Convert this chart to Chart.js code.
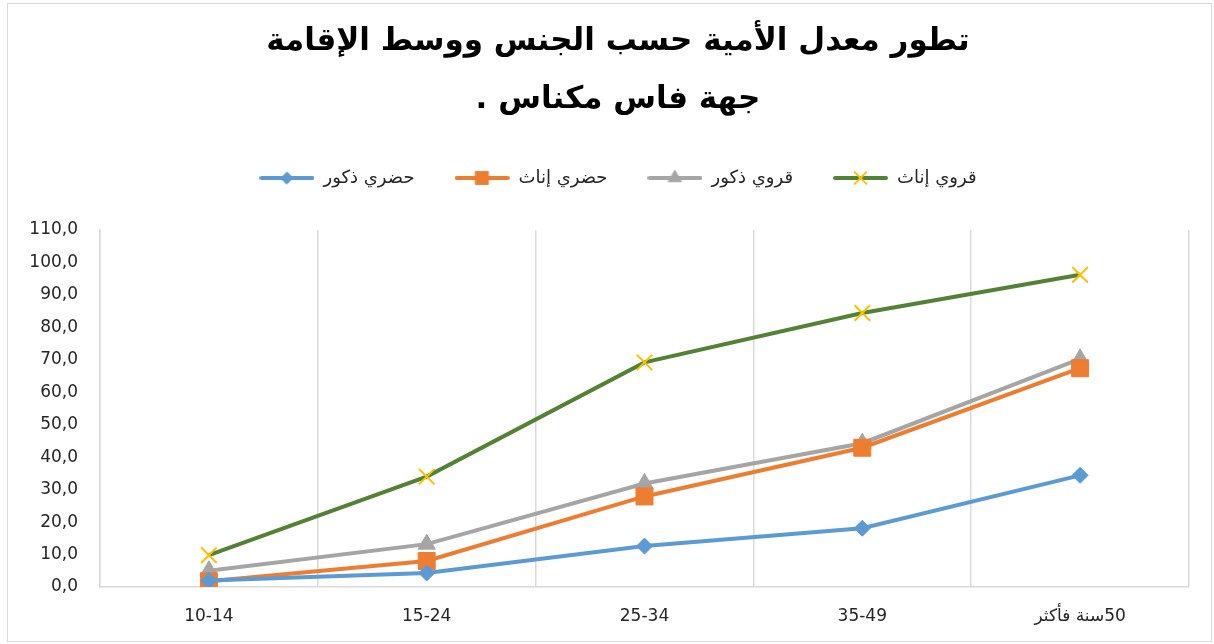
<!DOCTYPE html>
<html>
<head>
<meta charset="utf-8">
<script src="https://cdn.jsdelivr.net/npm/chart.js@4.4.0/dist/chart.umd.min.js"></script>
<style>
  html, body { margin: 0; padding: 0; background: #fff; }
  #wrap { width: 1214px; height: 644px; }
</style>
</head>
<body>
<div id="wrap"><canvas id="chart"></canvas></div>
<script>
// الفئات العمرية (RLM لترتيب النص من اليمين إلى اليسار)
const categories = ['10-14', '15-24', '25-34', '35-49', '\u200F50سنة فأكثر'];

// القيم المقروءة من المنحنى (%)
const urbanMale = [2.0, 4.3, 12.6, 18.1, 34.4];     // حضري ذكور
const urbanFemale = [1.8, 8.0, 27.9, 42.9, 67.4];   // حضري إناث
const ruralMale = [5.0, 13.2, 31.9, 44.3, 70.3];    // قروي ذكور
const ruralFemale = [9.8, 34.0, 69.2, 84.4, 96.2];  // قروي إناث

const seriesNames = ['حضري ذكور', 'حضري إناث', 'قروي ذكور', 'قروي إناث'];
const titleLines = ['تطور معدل الأمية حسب الجنس ووسط الإقامة', 'جهة فاس مكناس .'];

const yMin = 0;
const yMax = 110;
const yStep = 10;

// ألوان Excel
const colors = {
  blue: '#5B9BD5',
  orange: '#ED7D31',
  gray: '#A5A5A5',
  green: '#548235',
  yellow: '#FFC000'
};

// RLM في آخر السطر حتى تبقى النقطة على اليسار
const titleText = titleLines.map(l => l + '\u200F');

const ds = (label, data, color, style, radius, markerColor, markerBorder) => ({
  label: label,
  data: data,
  borderColor: color,
  backgroundColor: markerColor || color,
  borderWidth: 4,
  pointStyle: style,
  pointRadius: radius,
  pointHoverRadius: radius,
  pointBackgroundColor: markerColor || color,
  pointBorderColor: markerColor || color,
  pointBorderWidth: markerBorder || 1,
  tension: 0,
  fill: false
});

const iconW = 55;

// صورة صغيرة للرمز في وسيلة الإيضاح (خط + علامة)
function legendIcon(d) {
  const c = document.createElement('canvas');
  c.width = iconW;
  c.height = 22;
  const ctx = c.getContext('2d');
  ctx.strokeStyle = d.borderColor;
  ctx.lineWidth = 4;
  ctx.lineCap = 'round';
  ctx.beginPath();
  ctx.moveTo(2, 11);
  ctx.lineTo(iconW - 2, 11);
  ctx.stroke();
  ctx.fillStyle = d.pointBackgroundColor;
  ctx.strokeStyle = d.pointBorderColor;
  ctx.lineWidth = d.pointBorderWidth;
  Chart.helpers.drawPoint(ctx, {
    pointStyle: d.pointStyle,
    radius: d.pointRadius * 0.75,
    rotation: 0,
    borderWidth: d.pointBorderWidth
  }, iconW / 2, 11);
  return c;
}

// إطار الرسم
const frame = {
  id: 'frame',
  beforeDraw(chart) {
    const ctx = chart.ctx;
    ctx.save();
    ctx.fillStyle = '#fff';
    ctx.fillRect(0, 0, chart.width, chart.height);
    ctx.strokeStyle = '#d9d9d9';
    ctx.lineWidth = 1;
    ctx.strokeRect(7.5, 3.5, 1204, 638);
    ctx.restore();
  }
};

// مسافة إضافية تحت وسيلة الإيضاح
const legendGap = {
  id: 'legendGap',
  beforeLayout(chart) {
    const lg = chart.legend;
    if (lg && !lg._gapPatched) {
      const fit = lg.fit;
      lg.fit = function () {
        fit.call(this);
        this.height += 33;
      };
      lg._gapPatched = true;
    }
  }
};

const datasets = [
  ds(seriesNames[0], urbanMale, colors.blue, 'rectRot', 8),
  ds(seriesNames[1], urbanFemale, colors.orange, 'rect', 12),
  ds(seriesNames[2], ruralMale, colors.gray, 'triangle', 10),
  ds(seriesNames[3], ruralFemale, colors.green, 'crossRot', 11, colors.yellow, 2)
];

const chart = new Chart(document.getElementById('chart'), {
  type: 'line',
  data: { labels: categories, datasets: datasets },
  plugins: [frame, legendGap],
  options: {
    responsive: true,
    maintainAspectRatio: false,
    animation: false,
    layout: { padding: { left: 30, right: 8, top: 0, bottom: 4 } },
    plugins: {
      title: {
        display: true,
        text: titleText,
        color: '#000',
        font: { family: 'DejaVu Sans', size: 31, weight: 'bold', lineHeight: 1.87 },
        padding: { top: 13, bottom: 0 }
      },
      legend: {
        display: true,
        position: 'top',
        labels: {
          color: '#262626',
          font: { family: 'DejaVu Sans', size: 18 },
          usePointStyle: true,
          pointStyleWidth: iconW,
          padding: 40,
          generateLabels(c) {
            const items = Chart.defaults.plugins.legend.labels.generateLabels(c);
            items.forEach((it, i) => {
              it.pointStyle = legendIcon(c.data.datasets[i]);
            });
            return items;
          }
        }
      },
      tooltip: { enabled: false }
    },
    scales: {
      x: {
        offset: true,
        grid: { display: true, offset: true, color: '#d9d9d9', lineWidth: 1.5, drawTicks: false },
        border: { display: true, color: '#d9d9d9', width: 1.5 },
        ticks: {
          color: '#262626',
          padding: 19,
          maxRotation: 0,
          autoSkip: false,
          font: { family: 'DejaVu Sans', size: 17 }
        },
        afterFit(s) { s.height = 53; }
      },
      y: {
        min: yMin,
        max: yMax,
        grid: { display: false, drawTicks: false },
        border: { display: true, color: '#d9d9d9', width: 1.5 },
        ticks: {
          stepSize: yStep,
          color: '#262626',
          padding: 22,
          font: { family: 'DejaVu Sans', size: 17 },
          callback: (v) => v.toFixed(1).replace('.', ',')
        },
        afterFit(s) { s.width = 70; }
      },
      // محور فارغ على اليمين لحجز الهامش
      yRight: {
        position: 'right',
        min: yMin,
        max: yMax,
        grid: { display: false, drawTicks: false },
        border: { display: false },
        ticks: { display: false },
        afterFit(s) { s.width = 17; }
      }
    }
  }
});
</script>
</body>
</html>
